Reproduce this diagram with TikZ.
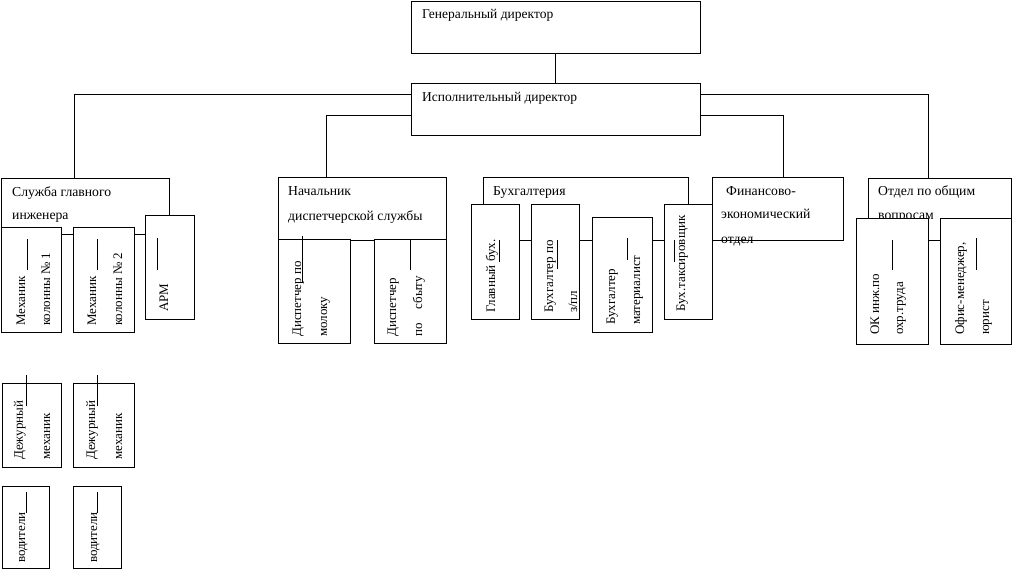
\documentclass[tikz,border=0pt]{standalone}
\usepackage{fontspec}
\setmainfont{Liberation Serif}
\begin{document}
\begin{tikzpicture}[x=1pt,y=-1pt,
  box/.style={draw, line width=0.9pt, fill=white, inner sep=0pt, outer sep=0pt, anchor=north west},
  txt/.style={font=\fontsize{13.7}{15}\selectfont, inner sep=0pt, anchor=base west},
  dtxt/.style={txt, font=\fontsize{13.5}{15}\selectfont},
  rot/.style={txt, font=\fontsize{13}{15}\selectfont, rotate=90},
  conn/.style={line width=0.9pt},
  tick/.style={line width=0.9pt}
]
\newcommand\mybox[5]{\node[box, minimum width={(#4-#2)*1pt}, minimum height={(#5-#3)*1pt}] (#1) at (#2,#3) {};}
\fill[white] (0,0) rectangle (1013,570);
\useasboundingbox (0,0) rectangle (1013,570);

% directors
\mybox{gen}{411}{1}{700}{53}
\node[dtxt] (genT) at (422,19) {Генеральный директор};
\mybox{isp}{411}{83}{700}{135}
\node[dtxt] (ispT) at (422,101) {Исполнительный директор};

% department boxes
\mybox{sluzh}{1}{178}{169}{234}
\node[txt] (sluzhT1) at (12,196) {Служба главного};
\node[txt] (sluzhT2) at (12,219) {инженера};
\mybox{nach}{278}{177}{446}{240}
\node[txt] (nachT1) at (288,195) {Начальник};
\node[txt] (nachT2) at (288,220) {диспетчерской службы};
\mybox{buh}{483}{177}{688}{240}
\node[txt] (buhT) at (493,195) {Бухгалтерия};
\mybox{fin}{712}{177}{843}{240}
\node[txt] (finT1) at (726,195) {Финансово-};
\node[txt] (finT2) at (721,218) {экономический};
\node[txt] (finT3) at (721,243) {отдел};
\mybox{otdel}{868}{178}{1011}{240}
\node[txt] (otdelT1) at (878,195) {Отдел по общим};
\node[txt] (otdelT2) at (878,219) {вопросам};

% connectors
\draw[conn] (gen.south) -- (isp.north);
\draw[conn] ([yshift=-11pt]isp.north west) -| ([xshift=73pt]sluzh.north west);
\draw[conn] ([yshift=-32pt]isp.north west) -| ([xshift=48pt]nach.north west);
\draw[conn] ([yshift=-11pt]isp.north east) -| ([xshift=60pt]otdel.north west);
\draw[conn] ([yshift=-32pt]isp.north east) -| ([xshift=71pt]fin.north west);

% sub-boxes: chief engineer service
\mybox{mech1}{1}{227}{61}{332}
\node[rot] (mech1T1) at (25,326) {Механик};
\node[rot] (mech1T2) at (50,326) {колонны № 1};
\mybox{mech2}{73}{227}{134}{332}
\node[rot] (mech2T1) at (96,326) {Механик};
\node[rot] (mech2T2) at (122,326) {колонны № 2};
\mybox{arm}{145}{215}{194}{319}
\node[rot] (armT) at (168,312) {АРМ};
\mybox{dezh1}{2}{383}{61}{467}
\node[rot] (dezh1T1) at (23,460) {Дежурный};
\node[rot] (dezh1T2) at (50,460) {механик};
\mybox{dezh2}{73}{383}{134}{467}
\node[rot] (dezh2T1) at (95,460) {Дежурный};
\node[rot] (dezh2T2) at (122,460) {механик};
\mybox{vod1}{2}{486}{49}{568}
\node[rot] (vod1T) at (25,563) {водители};
\mybox{vod2}{73}{486}{121}{568}
\node[rot] (vod2T) at (97,563) {водители};

% dispatch
\mybox{disp1}{278}{239}{350}{343}
\node[rot] (disp1T1) at (301,337) {Диспетчер по};
\node[rot] (disp1T2) at (327,337) {молоку};
\mybox{disp2}{374}{239}{446}{343}
\node[rot] (disp2T1) at (396,337) {Диспетчер};
\node[rot] (disp2T2) at (422,337) {по\hspace{14pt}сбыту};

% accounting
\mybox{glbuh}{471}{204}{519}{319}
\node[rot] (glbuhT) at (495,313) {Главный \underline{бух.}};
\mybox{buhzp}{531}{204}{579}{319}
\node[rot] (buhzpT1) at (553,313) {Бухгалт\underline{ер по}};
\node[rot] (buhzpT2) at (577,313) {з/пл};
\mybox{buhmat}{592}{217}{652}{332}
\node[rot] (buhmatT1) at (615,325) {Бухгалтер};
\node[rot] (buhmatT2) at (640,325) {материалист};
\mybox{buhtax}{664}{204}{712}{319}
\node[rot] (buhtaxT) at (685,312) {Бух.таксировщик};

% general affairs
\mybox{ok}{856}{218}{928}{344}
\node[rot] (okT1) at (879,335) {ОК инж.по};
\node[rot] (okT2) at (903,335) {охр.труда};
\mybox{ofis}{940}{218}{1011}{344}
\node[rot] (ofisT1) at (964,335) {Офис-менеджер,};
\node[rot] (ofisT2) at (989,335) {юрист};

% stray vertical strokes
\draw[tick] (27,239) -- (27,270);
\draw[tick] (97.5,239) -- (97.5,270);
\draw[tick] (157,238) -- (157,270);
\draw[tick] (302,236) -- (302,283);
\draw[tick] (410,240) -- (410,270);
\draw[tick] (627,238) -- (627,260);
\draw[tick] (674,240) -- (674,262);
\draw[tick] (892,240) -- (892,270);
\draw[tick] (976,238) -- (976,270);
\draw[tick] (26,375) -- (26,406);
\draw[tick] (97,375) -- (97,406);
\draw[tick] (26,492) -- (26,513);
\draw[tick] (97,492) -- (97,513);
\end{tikzpicture}
\end{document}
